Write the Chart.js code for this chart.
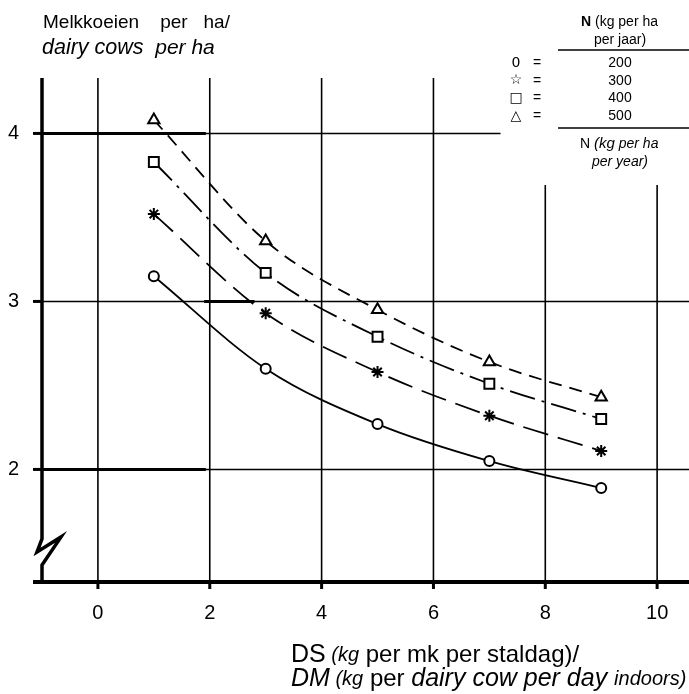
<!DOCTYPE html>
<html>
<head>
<meta charset="utf-8">
<script src="https://cdn.jsdelivr.net/npm/chart.js@4.4.0/dist/chart.umd.min.js"></script>
<style>
html, body { margin: 0; padding: 0; background: #fff; overflow: hidden; }
canvas { display: block; }
</style>
</head>
<body>
<canvas id="chart" width="689" height="694"></canvas>
<script>
const FONT = "'Liberation Sans', Arial, sans-serif";

// DS (kg per dairy cow per day indoors)
const xValues = [1, 3, 5, 7, 9];

// dairy cows per ha, one list per N level (kg per ha per year)
const n200 = [3.15, 2.60, 2.27, 2.05, 1.89];
const n300 = [3.52, 2.93, 2.58, 2.32, 2.11];
const n400 = [3.83, 3.17, 2.79, 2.51, 2.30];
const n500 = [4.08, 3.36, 2.95, 2.64, 2.43];

const xTicks = [0, 2, 4, 6, 8, 10];
const yTicks = [2, 3, 4];

const legendSymbols = ["0", "☆", "□", "△"];
const legendLevels = ["200", "300", "400", "500"];

function series(label, values, style, radius, dash) {
    return {
        label: label,
        data: xValues.map((v, i) => ({ x: v, y: values[i] })),
        borderColor: "#000",
        borderWidth: 1.8,
        borderDash: dash,
        cubicInterpolationMode: "monotone",
        pointStyle: style,
        pointRadius: radius,
        pointBorderWidth: 2,
        pointBorderColor: "#000",
        pointBackgroundColor: "#fff",
        fill: false
    };
}

function stroke(ctx, pts, width) {
    ctx.lineWidth = width;
    ctx.beginPath();
    ctx.moveTo(pts[0][0], pts[0][1]);
    for (let i = 1; i < pts.length; i++) ctx.lineTo(pts[i][0], pts[i][1]);
    ctx.stroke();
}

// draws a row of text pieces with their own fonts, starting at x
function pieces(ctx, parts, x, y) {
    ctx.textBaseline = "middle";
    ctx.textAlign = "left";
    parts.forEach(p => {
        ctx.font = p[1] + " " + FONT;
        ctx.fillText(p[0], x, y);
        x += ctx.measureText(p[0]).width;
    });
}

const paperPlugin = {
    id: "paper",
    beforeDatasetsDraw(chart) {
        const { ctx, chartArea: a, scales: { x, y } } = chart;
        ctx.save();
        ctx.strokeStyle = "#000";

        // vertical grid lines, the two right ones stop under the key
        xTicks.forEach(v => {
            const px = x.getPixelForValue(v);
            const top = v >= 8 ? 185 : a.top;
            stroke(ctx, [[px, top], [px, a.bottom]], 1.6);
            stroke(ctx, [[px, a.bottom], [px, a.bottom + 7]], 3);
        });

        // horizontal grid lines
        yTicks.forEach(v => {
            const py = y.getPixelForValue(v);
            const end = v === 4 ? x.getPixelForValue(7.2) : a.right;
            stroke(ctx, [[a.left, py], [end, py]], 1.6);
            stroke(ctx, [[a.left - 9, py], [a.left, py]], 3);
        });
        stroke(ctx, [[a.left, y.getPixelForValue(4)], [x.getPixelForValue(1.93), y.getPixelForValue(4)]], 3);
        stroke(ctx, [[a.left, y.getPixelForValue(2)], [x.getPixelForValue(1.93), y.getPixelForValue(2)]], 3);
        stroke(ctx, [[x.getPixelForValue(1.9), y.getPixelForValue(3)], [x.getPixelForValue(2.8), y.getPixelForValue(3)]], 3);

        // y axis with the break mark
        const ax = a.left;
        stroke(ctx, [[ax, a.top], [ax, a.bottom - 43], [ax - 5, a.bottom - 30],
            [ax + 19, a.bottom - 45], [ax, a.bottom - 17], [ax, a.bottom]], 3.5);

        // x axis
        stroke(ctx, [[ax - 9, a.bottom], [a.right, a.bottom]], 4);
        ctx.restore();
    },
    afterDraw(chart) {
        const ctx = chart.ctx;
        ctx.save();
        ctx.fillStyle = "#000";
        ctx.strokeStyle = "#000";

        // y title
        pieces(ctx, [["Melkkoeien    per   ha/", "19px"]], 43, 23);
        pieces(ctx, [["dairy cows", "italic 21.5px"], ["  per ha", "italic 21px"]], 42, 48);

        // x title
        pieces(ctx, [["DS", "25px"], [" (kg", "italic 20px"], [" per mk per staldag)/", "24px"]], 291, 655);
        pieces(ctx, [["DM", "italic 25px"], [" (kg", "italic 20px"], [" per ", "24px"],
            ["dairy cow per day ", "italic 25px"], ["indoors)", "italic 20px"]], 291, 679);

        // key in the top right corner
        pieces(ctx, [["N", "bold 14px"], [" (kg per ha", "14px"]], 581, 22);
        ctx.textAlign = "center";
        ctx.font = "14px " + FONT;
        ctx.fillText("per jaar)", 620, 40);
        stroke(ctx, [[558, 50], [689, 50]], 1.3);
        legendSymbols.forEach((s, i) => {
            const ry = 63 + i * 17.7;
            ctx.font = "14px 'DejaVu Sans', " + FONT;
            ctx.fillText(s, 516, ry);
            ctx.font = "14px " + FONT;
            ctx.fillText("=", 537, ry);
            ctx.fillText(legendLevels[i], 620, ry);
        });
        stroke(ctx, [[558, 128], [689, 128]], 1.3);
        pieces(ctx, [["N ", "14px"], ["(kg", "italic 15px"], [" per ha", "italic 14px"]], 580, 144);
        ctx.textAlign = "center";
        ctx.font = "italic 14px " + FONT;
        ctx.fillText("per year)", 620, 162);
        ctx.restore();
    }
};

const ctx = document.getElementById("chart");

new Chart(ctx, {
    type: "line",
    data: {
        datasets: [
            series("200", n200, "circle", 5, []),
            series("300", n300, "star", 6, [26, 10]),
            series("400", n400, "rect", 7, [26, 7, 3, 7]),
            series("500", n500, "triangle", 6.5, [13, 8])
        ]
    },
    options: {
        responsive: false,
        animation: false,
        layout: { autoPadding: false, padding: { top: 78, right: 0, bottom: 0, left: 0 } },
        plugins: {
            legend: { display: false },
            title: { display: false },
            tooltip: { enabled: false }
        },
        scales: {
            x: {
                type: "linear",
                min: -1,
                max: 10.57,
                afterFit: s => { s.height = 112; },
                afterBuildTicks: s => { s.ticks = xTicks.map(v => ({ value: v })); },
                grid: { display: false, drawTicks: false },
                border: { display: false },
                ticks: {
                    padding: 19,
                    color: "#000",
                    font: { family: FONT, size: 20 }
                }
            },
            y: {
                type: "linear",
                min: 1.33,
                max: 4.33,
                afterFit: s => { s.width = 42; },
                afterBuildTicks: s => { s.ticks = yTicks.map(v => ({ value: v })); },
                grid: { display: false, drawTicks: false },
                border: { display: false },
                ticks: {
                    padding: 23,
                    color: "#000",
                    font: { family: FONT, size: 20 }
                }
            }
        }
    },
    plugins: [paperPlugin]
});
</script>
</body>
</html>
